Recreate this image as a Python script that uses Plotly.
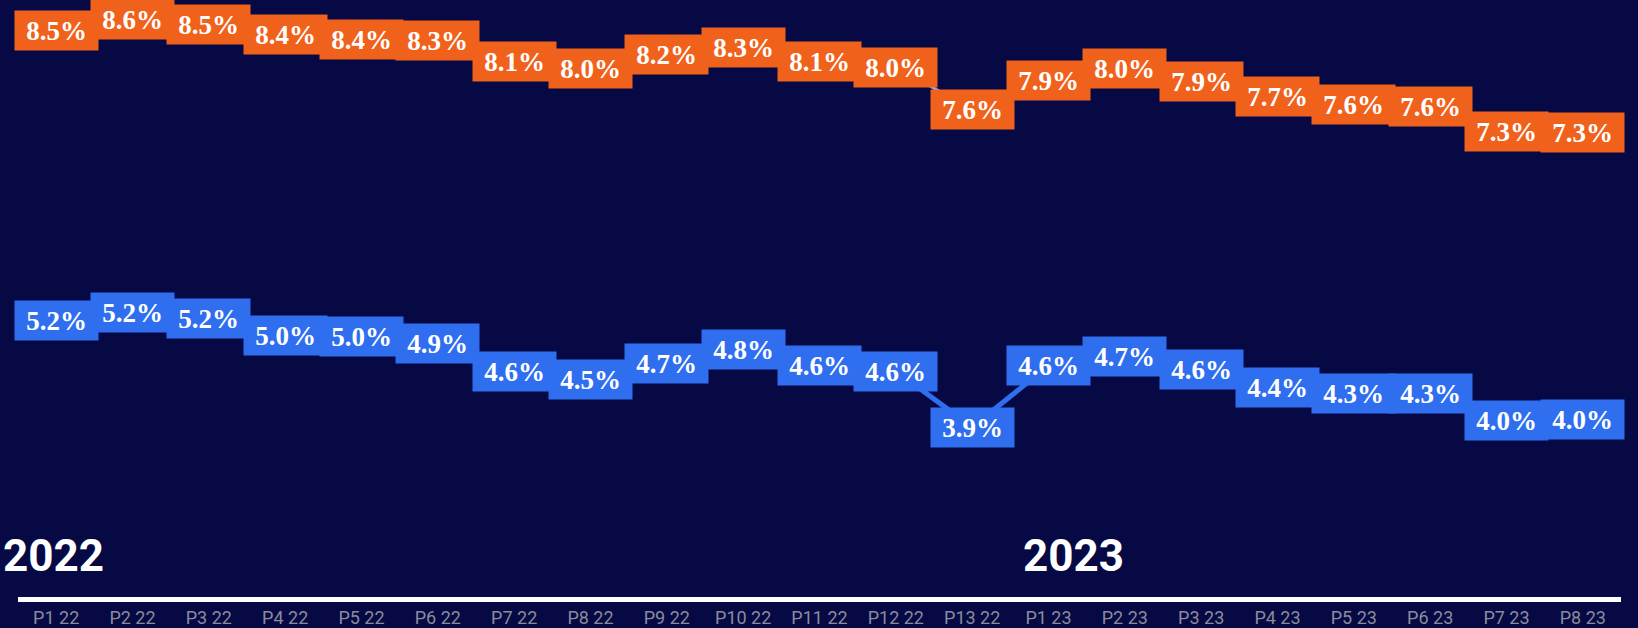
import plotly.graph_objects as go

periods = ["P1 22", "P2 22", "P3 22", "P4 22", "P5 22", "P6 22", "P7 22", "P8 22",
           "P9 22", "P10 22", "P11 22", "P12 22", "P13 22",
           "P1 23", "P2 23", "P3 23", "P4 23", "P5 23", "P6 23", "P7 23", "P8 23"]

orange_vals = [8.46, 8.59, 8.53, 8.41, 8.36, 8.34, 8.10, 8.03, 8.19, 8.27, 8.10, 8.04, 7.56,
               7.89, 8.02, 7.88, 7.70, 7.61, 7.59, 7.31, 7.29]
blue_vals = [5.15, 5.24, 5.17, 4.97, 4.96, 4.88, 4.56, 4.47, 4.66, 4.81, 4.63, 4.57, 3.93,
             4.63, 4.73, 4.59, 4.38, 4.31, 4.31, 4.01, 4.02]

year_labels = ["2022", "2023"]

BG = "#060943"
ORANGE = "#f0621c"
BLUE = "#2f6fef"

fig = go.Figure()
fig.add_trace(go.Scatter(x=periods, y=orange_vals, mode="lines",
                         line=dict(color="#9ca2f4", width=3), hoverinfo="skip", showlegend=False))
fig.add_trace(go.Scatter(x=periods, y=blue_vals, mode="lines",
                         line=dict(color=BLUE, width=5), hoverinfo="skip", showlegend=False))

annots = []
for series, col in ((orange_vals, ORANGE), (blue_vals, BLUE)):
    for p, v in zip(periods, series):
        annots.append(dict(
            x=p, y=v, xref="x", yref="y", text=f"{v:.1f}%", showarrow=False,
            bgcolor=col, width=75, height=31, borderpad=4, align="center",
            font=dict(family="Liberation Serif", size=27, color="white", weight="bold"),
        ))

for lab, px in zip(year_labels, [-0.0105, 0.6255]):
    annots.append(dict(
        x=px, y=0.068, xref="paper", yref="paper", xanchor="left", yanchor="middle",
        text=lab, showarrow=False,
        font=dict(family="Roboto", size=44, color="white", weight="bold"),
    ))

fig.update_layout(
    width=1638, height=628,
    margin=dict(l=18, r=17, t=0, b=28),
    paper_bgcolor=BG, plot_bgcolor=BG,
    annotations=annots,
    xaxis=dict(type="category", range=[-0.5, 20.5], showgrid=False, zeroline=False,
               showline=True, linecolor="white", linewidth=5, ticks="",
               tickfont=dict(family="Roboto", size=18, color="#8a8b9c")),
    yaxis=dict(range=[1.989, 8.807], showgrid=False, zeroline=False, showticklabels=False,
               showline=False),
)

fig.write_html("out.html", config={"displayModeBar": False},
               post_script="document.body.style.margin='0';document.body.style.background='%s';" % BG)
